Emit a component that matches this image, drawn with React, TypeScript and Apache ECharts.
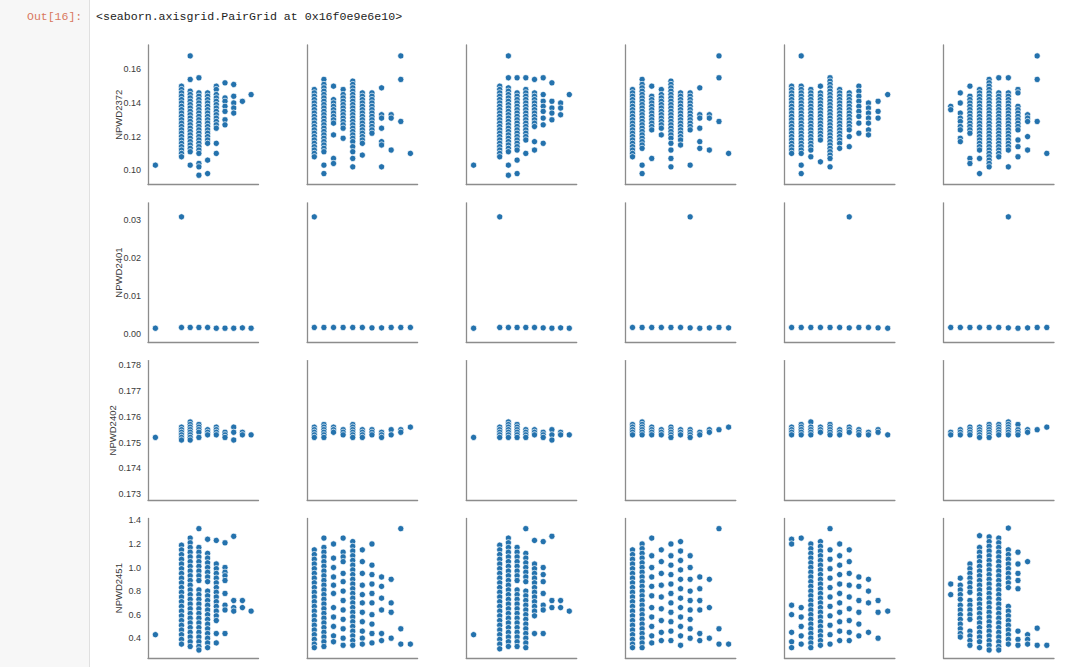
import React, { useEffect, useRef } from "react";
import * as echarts from "echarts";

const yNames = ["NPWD2372", "NPWD2401", "NPWD2402", "NPWD2451"];
const xLevelsA = [0, 3, 4, 5, 6, 7, 8, 9, 10, 11];
const xLevelsB = [0, 1, 2, 3, 4, 5, 6, 7, 8, 9, 10];
const colLevels = [xLevelsA, xLevelsB, xLevelsA, xLevelsB, xLevelsB, xLevelsB];
const yTicks = [
  [0.1, 0.12, 0.14, 0.16],
  [0.0, 0.01, 0.02, 0.03],
  [0.173, 0.174, 0.175, 0.176, 0.177, 0.178],
  [0.4, 0.6, 0.8, 1.0, 1.2, 1.4],
];
const yDecimals = [2, 2, 3, 1];
const yMin = [0.0915, -0.0021, 0.17277, 0.233];
const yMax = [0.1745, 0.0346, 0.17818, 1.417];

// Row 1: NPWD2372
const r1c1 = [
  [0.103],
  [0.150, 0.148, 0.146, 0.144, 0.142, 0.140, 0.138, 0.136, 0.134, 0.132, 0.130, 0.128, 0.126, 0.124, 0.122, 0.120, 0.118, 0.116, 0.114, 0.112, 0.110, 0.108],
  [0.168, 0.154, 0.147, 0.145, 0.143, 0.141, 0.139, 0.137, 0.135, 0.133, 0.131, 0.129, 0.127, 0.125, 0.123, 0.121, 0.119, 0.117, 0.115, 0.113, 0.111, 0.103],
  [0.155, 0.146, 0.144, 0.142, 0.140, 0.138, 0.136, 0.134, 0.132, 0.130, 0.128, 0.126, 0.124, 0.122, 0.120, 0.118, 0.116, 0.114, 0.112, 0.110, 0.104, 0.102, 0.097],
  [0.146, 0.144, 0.142, 0.140, 0.138, 0.136, 0.134, 0.132, 0.130, 0.128, 0.126, 0.124, 0.122, 0.120, 0.118, 0.116, 0.106, 0.098],
  [0.150, 0.148, 0.145, 0.143, 0.141, 0.139, 0.137, 0.135, 0.133, 0.131, 0.129, 0.127, 0.125, 0.116, 0.110],
  [0.152, 0.143, 0.141, 0.138, 0.135, 0.130, 0.127],
  [0.151, 0.144, 0.140, 0.137, 0.134],
  [0.141],
  [0.145],
];
const r1c2 = [
  [0.148, 0.146, 0.144, 0.142, 0.140, 0.138, 0.136, 0.134, 0.132, 0.130, 0.128, 0.126, 0.124, 0.122, 0.120, 0.118, 0.116, 0.114, 0.112, 0.110, 0.108],
  [0.154, 0.151, 0.149, 0.147, 0.145, 0.143, 0.141, 0.139, 0.137, 0.135, 0.133, 0.131, 0.129, 0.127, 0.125, 0.123, 0.121, 0.119, 0.117, 0.115, 0.113, 0.111, 0.103, 0.098],
  [0.150, 0.142, 0.140, 0.138, 0.136, 0.134, 0.132, 0.130, 0.128, 0.121, 0.107, 0.104],
  [0.148, 0.145, 0.143, 0.141, 0.139, 0.137, 0.135, 0.133, 0.131, 0.129, 0.127, 0.125, 0.119],
  [0.153, 0.151, 0.149, 0.147, 0.145, 0.143, 0.141, 0.139, 0.137, 0.135, 0.133, 0.131, 0.129, 0.127, 0.125, 0.123, 0.121, 0.119, 0.117, 0.114, 0.111, 0.107, 0.102],
  [0.146, 0.144, 0.142, 0.140, 0.138, 0.136, 0.134, 0.132, 0.130, 0.128, 0.126, 0.124, 0.122, 0.120, 0.118, 0.116, 0.109],
  [0.146, 0.144, 0.142, 0.140, 0.138, 0.136, 0.134, 0.132, 0.130, 0.128, 0.126, 0.124, 0.122],
  [0.149, 0.133, 0.131, 0.125, 0.117, 0.115, 0.102],
  [0.133, 0.131, 0.112],
  [0.168, 0.154, 0.129],
  [0.110],
];
const r1c3 = [
  [0.103],
  [0.150, 0.148, 0.146, 0.144, 0.142, 0.140, 0.138, 0.136, 0.134, 0.132, 0.130, 0.128, 0.126, 0.124, 0.122, 0.120, 0.118, 0.116, 0.114, 0.112, 0.110, 0.108],
  [0.168, 0.155, 0.149, 0.147, 0.145, 0.143, 0.141, 0.139, 0.137, 0.135, 0.133, 0.131, 0.129, 0.127, 0.125, 0.123, 0.121, 0.119, 0.117, 0.115, 0.113, 0.111, 0.103, 0.097],
  [0.155, 0.146, 0.144, 0.142, 0.140, 0.138, 0.136, 0.134, 0.132, 0.130, 0.128, 0.126, 0.124, 0.122, 0.120, 0.118, 0.116, 0.114, 0.112, 0.106, 0.098],
  [0.155, 0.148, 0.146, 0.144, 0.142, 0.140, 0.138, 0.136, 0.134, 0.132, 0.130, 0.128, 0.126, 0.124, 0.122, 0.120, 0.118, 0.110],
  [0.154, 0.146, 0.144, 0.142, 0.140, 0.138, 0.136, 0.134, 0.132, 0.130, 0.128, 0.126, 0.117, 0.112],
  [0.155, 0.145, 0.141, 0.138, 0.135, 0.131, 0.127, 0.116],
  [0.152, 0.141, 0.137, 0.134, 0.130],
  [0.140, 0.137, 0.133],
  [0.145],
];
const r1c4 = [
  [0.148, 0.146, 0.144, 0.142, 0.140, 0.138, 0.136, 0.134, 0.132, 0.130, 0.128, 0.126, 0.124, 0.122, 0.120, 0.118, 0.116, 0.114, 0.112, 0.110, 0.108],
  [0.154, 0.151, 0.149, 0.147, 0.145, 0.143, 0.141, 0.139, 0.137, 0.135, 0.133, 0.131, 0.129, 0.127, 0.125, 0.123, 0.121, 0.119, 0.117, 0.115, 0.113, 0.103, 0.098],
  [0.150, 0.144, 0.142, 0.140, 0.138, 0.136, 0.134, 0.132, 0.130, 0.128, 0.126, 0.124, 0.107],
  [0.148, 0.145, 0.143, 0.141, 0.139, 0.137, 0.135, 0.133, 0.131, 0.129, 0.127, 0.125, 0.121],
  [0.153, 0.151, 0.149, 0.147, 0.145, 0.143, 0.141, 0.139, 0.137, 0.135, 0.133, 0.131, 0.129, 0.127, 0.125, 0.123, 0.121, 0.119, 0.116, 0.112, 0.107, 0.102],
  [0.146, 0.144, 0.142, 0.140, 0.138, 0.136, 0.134, 0.132, 0.130, 0.128, 0.126, 0.124, 0.122, 0.120, 0.118, 0.115],
  [0.146, 0.144, 0.142, 0.140, 0.138, 0.136, 0.134, 0.132, 0.130, 0.128, 0.126, 0.124, 0.103],
  [0.149, 0.133, 0.131, 0.125, 0.117, 0.113],
  [0.133, 0.131, 0.112],
  [0.168, 0.155, 0.129],
  [0.110],
];
const r1c5 = [
  [0.150, 0.148, 0.146, 0.144, 0.142, 0.140, 0.138, 0.136, 0.134, 0.132, 0.130, 0.128, 0.126, 0.124, 0.122, 0.120, 0.118, 0.116, 0.114, 0.112, 0.110],
  [0.168, 0.150, 0.148, 0.146, 0.144, 0.142, 0.140, 0.138, 0.136, 0.134, 0.132, 0.130, 0.128, 0.126, 0.124, 0.122, 0.120, 0.118, 0.116, 0.114, 0.112, 0.110, 0.103, 0.098],
  [0.148, 0.146, 0.144, 0.142, 0.140, 0.138, 0.136, 0.134, 0.132, 0.130, 0.128, 0.126, 0.124, 0.122, 0.120, 0.118, 0.116, 0.114, 0.112, 0.108],
  [0.150, 0.146, 0.144, 0.142, 0.140, 0.138, 0.136, 0.134, 0.132, 0.130, 0.128, 0.126, 0.124, 0.122, 0.120, 0.118, 0.105],
  [0.155, 0.153, 0.151, 0.149, 0.147, 0.145, 0.143, 0.141, 0.139, 0.137, 0.135, 0.133, 0.131, 0.129, 0.127, 0.125, 0.123, 0.121, 0.119, 0.117, 0.115, 0.113, 0.111, 0.109, 0.107, 0.102],
  [0.148, 0.146, 0.144, 0.142, 0.140, 0.138, 0.136, 0.134, 0.132, 0.130, 0.128, 0.126, 0.124, 0.122, 0.120, 0.118, 0.116, 0.113],
  [0.146, 0.144, 0.142, 0.140, 0.138, 0.136, 0.134, 0.132, 0.130, 0.128, 0.126, 0.124, 0.120, 0.114],
  [0.150, 0.147, 0.144, 0.141, 0.138, 0.135, 0.132, 0.128, 0.122],
  [0.140, 0.137, 0.134, 0.131, 0.128, 0.124, 0.121],
  [0.141, 0.135, 0.131],
  [0.145],
];
const r1c6 = [
  [0.138, 0.136],
  [0.146, 0.140, 0.134, 0.131, 0.129, 0.126, 0.124, 0.119, 0.117],
  [0.150, 0.144, 0.142, 0.140, 0.138, 0.136, 0.134, 0.132, 0.130, 0.128, 0.126, 0.124, 0.122, 0.107, 0.104],
  [0.148, 0.146, 0.144, 0.142, 0.140, 0.138, 0.136, 0.134, 0.132, 0.130, 0.128, 0.126, 0.124, 0.122, 0.120, 0.118, 0.116, 0.114, 0.112, 0.107, 0.098],
  [0.154, 0.152, 0.150, 0.148, 0.146, 0.144, 0.142, 0.140, 0.138, 0.136, 0.134, 0.132, 0.130, 0.128, 0.126, 0.124, 0.122, 0.120, 0.118, 0.116, 0.114, 0.112, 0.110, 0.108, 0.106, 0.104, 0.102],
  [0.155, 0.146, 0.144, 0.142, 0.140, 0.138, 0.136, 0.134, 0.132, 0.130, 0.128, 0.126, 0.124, 0.122, 0.120, 0.118, 0.116, 0.114, 0.112, 0.110, 0.108],
  [0.155, 0.146, 0.144, 0.142, 0.140, 0.138, 0.136, 0.134, 0.132, 0.130, 0.128, 0.126, 0.124, 0.122, 0.120, 0.118, 0.116, 0.114, 0.112, 0.102],
  [0.148, 0.146, 0.138, 0.136, 0.134, 0.132, 0.130, 0.128, 0.126, 0.124, 0.118, 0.114, 0.108],
  [0.133, 0.131, 0.129, 0.120, 0.112],
  [0.168, 0.154, 0.129],
  [0.110],
];

// Row 2: NPWD2401
const r2c1 = [[0.0016], [0.0309, 0.0018], [0.0018], [0.0018], [0.0018], [0.0016], [0.0016], [0.0016], [0.0017], [0.0016]];
const r2c2 = [[0.0309, 0.0018], [0.0018], [0.0018], [0.0018], [0.0018], [0.0018], [0.0017], [0.0017], [0.0018], [0.0018], [0.0018]];
const r2c3 = [[0.0016], [0.0309, 0.0018], [0.0018], [0.0018], [0.0018], [0.0018], [0.0017], [0.0016], [0.0017], [0.0016]];
const r2c4 = [[0.0018], [0.0018], [0.0018], [0.0018], [0.0018], [0.0018], [0.0309, 0.0017], [0.0016], [0.0017], [0.0018], [0.0017]];
const r2c5 = [[0.0018], [0.0018], [0.0018], [0.0018], [0.0018], [0.0018], [0.0309, 0.0017], [0.0018], [0.0018], [0.0017], [0.0016]];
const r2c6 = [[0.0018], [0.0018], [0.0018], [0.0018], [0.0018], [0.0018], [0.0309, 0.0017], [0.0016], [0.0017], [0.0018], [0.0018]];

// Row 3: NPWD2402
const r3c1 = [
  [0.1752],
  [0.1756, 0.1755, 0.1754, 0.1753, 0.1752, 0.1751],
  [0.1758, 0.1757, 0.1756, 0.1755, 0.1754, 0.1753, 0.1752, 0.1751],
  [0.1757, 0.1756, 0.1755, 0.1754, 0.1752],
  [0.1755, 0.1754, 0.1753],
  [0.1756, 0.1755, 0.1754, 0.1753],
  [0.1754, 0.1753, 0.1752],
  [0.1756, 0.1754, 0.1751],
  [0.1754, 0.1753],
  [0.1753],
];
const r3c2 = [
  [0.1756, 0.1755, 0.1754, 0.1753, 0.1752],
  [0.1757, 0.1756, 0.1755, 0.1754, 0.1753, 0.1752],
  [0.1756, 0.1755, 0.1754],
  [0.1755, 0.1754, 0.1753],
  [0.1757, 0.1756, 0.1755, 0.1754, 0.1753, 0.1752],
  [0.1755, 0.1754, 0.1753, 0.1752],
  [0.1755, 0.1754, 0.1753],
  [0.1754, 0.1753, 0.1752],
  [0.1755, 0.1753],
  [0.1755, 0.1754],
  [0.1756],
];
const r3c3 = [
  [0.1752],
  [0.1756, 0.1755, 0.1754, 0.1753, 0.1752],
  [0.1758, 0.1757, 0.1756, 0.1755, 0.1754, 0.1753, 0.1752],
  [0.1757, 0.1756, 0.1755, 0.1754, 0.1753, 0.1752],
  [0.1755, 0.1754, 0.1753, 0.1752],
  [0.1755, 0.1754, 0.1753],
  [0.1754, 0.1753, 0.1752],
  [0.1755, 0.1753, 0.1751],
  [0.1754, 0.1753],
  [0.1753],
];
const r3c4 = [
  [0.1757, 0.1756, 0.1755, 0.1754, 0.1753],
  [0.1758, 0.1757, 0.1756, 0.1755, 0.1754, 0.1753],
  [0.1756, 0.1755, 0.1754, 0.1753],
  [0.1755, 0.1754, 0.1753],
  [0.1756, 0.1755, 0.1754, 0.1753, 0.1752],
  [0.1755, 0.1754, 0.1753],
  [0.1755, 0.1754, 0.1753, 0.1752],
  [0.1754, 0.1753],
  [0.1755, 0.1754],
  [0.1755],
  [0.1756],
];
const r3c5 = [
  [0.1756, 0.1755, 0.1754, 0.1753],
  [0.1757, 0.1756, 0.1755, 0.1754, 0.1753],
  [0.1758, 0.1756, 0.1755, 0.1754, 0.1753],
  [0.1756, 0.1755, 0.1754],
  [0.1757, 0.1756, 0.1755, 0.1754, 0.1753],
  [0.1755, 0.1754, 0.1753],
  [0.1756, 0.1755, 0.1754],
  [0.1755, 0.1754, 0.1753],
  [0.1754, 0.1753],
  [0.1755, 0.1754],
  [0.1753],
];
const r3c6 = [
  [0.1754, 0.1753],
  [0.1755, 0.1754, 0.1753],
  [0.1756, 0.1755, 0.1754, 0.1753],
  [0.1756, 0.1755, 0.1754, 0.1753, 0.1752],
  [0.1757, 0.1756, 0.1755, 0.1754, 0.1753, 0.1752],
  [0.1757, 0.1756, 0.1755, 0.1754, 0.1753],
  [0.1758, 0.1757, 0.1756, 0.1755, 0.1754, 0.1753],
  [0.1757, 0.1755, 0.1754, 0.1753],
  [0.1755, 0.1754],
  [0.1755],
  [0.1756],
];

// Row 4: NPWD2451
const r4c1 = [
  [0.43],
  [1.19, 1.15, 1.11, 1.07, 1.03, 0.99, 0.95, 0.91, 0.87, 0.83, 0.79, 0.75, 0.71, 0.67, 0.63, 0.59, 0.55, 0.51, 0.47, 0.43, 0.39, 0.35],
  [1.25, 1.21, 1.17, 1.13, 1.09, 1.05, 1.01, 0.97, 0.93, 0.89, 0.85, 0.81, 0.77, 0.73, 0.69, 0.65, 0.61, 0.57, 0.53, 0.49, 0.45, 0.41, 0.37, 0.33],
  [1.33, 1.17, 1.13, 1.09, 1.05, 1.01, 0.97, 0.93, 0.89, 0.81, 0.77, 0.73, 0.69, 0.65, 0.61, 0.57, 0.53, 0.49, 0.45, 0.41, 0.37, 0.33, 0.30],
  [1.24, 1.12, 1.08, 1.04, 1.00, 0.96, 0.92, 0.88, 0.80, 0.76, 0.72, 0.68, 0.64, 0.60, 0.56, 0.52, 0.48, 0.44, 0.40, 0.36, 0.32],
  [1.23, 1.03, 0.99, 0.95, 0.91, 0.87, 0.83, 0.79, 0.75, 0.71, 0.67, 0.63, 0.59, 0.55, 0.44, 0.36],
  [1.21, 1.00, 0.96, 0.93, 0.89, 0.78, 0.68, 0.64, 0.44],
  [1.265, 0.72, 0.66, 0.63],
  [0.72, 0.66],
  [0.63],
];
const r4c2 = [
  [1.15, 1.11, 1.07, 1.03, 0.99, 0.95, 0.91, 0.87, 0.83, 0.79, 0.75, 0.71, 0.67, 0.63, 0.59, 0.55, 0.51, 0.47, 0.43, 0.39, 0.35, 0.32],
  [1.25, 1.17, 1.13, 1.09, 1.05, 1.01, 0.97, 0.93, 0.89, 0.85, 0.81, 0.77, 0.73, 0.69, 0.65, 0.61, 0.57, 0.53, 0.49, 0.45, 0.41, 0.37, 0.33],
  [1.20, 1.08, 1.00, 0.92, 0.85, 0.78, 0.66, 0.58, 0.50, 0.42, 0.37],
  [1.25, 1.13, 1.09, 1.05, 0.95, 0.88, 0.80, 0.72, 0.64, 0.56, 0.48, 0.40, 0.34],
  [1.22, 1.18, 1.14, 1.10, 1.06, 1.02, 0.98, 0.94, 0.90, 0.86, 0.82, 0.78, 0.74, 0.70, 0.66, 0.62, 0.58, 0.54, 0.50, 0.46, 0.42, 0.38, 0.34],
  [1.15, 1.05, 0.95, 0.85, 0.77, 0.70, 0.62, 0.54, 0.46, 0.40, 0.35],
  [1.20, 1.02, 0.94, 0.86, 0.78, 0.70, 0.60, 0.52, 0.44, 0.36],
  [0.92, 0.84, 0.74, 0.64, 0.44, 0.38],
  [0.90, 0.70, 0.62, 0.40],
  [1.33, 0.48, 0.35],
  [0.35],
];
const r4c3 = [
  [0.43],
  [1.19, 1.15, 1.11, 1.07, 1.03, 0.99, 0.95, 0.91, 0.87, 0.83, 0.79, 0.75, 0.71, 0.67, 0.63, 0.59, 0.55, 0.51, 0.47, 0.43, 0.39, 0.35, 0.31],
  [1.25, 1.21, 1.17, 1.13, 1.09, 1.05, 1.01, 0.97, 0.93, 0.89, 0.85, 0.81, 0.77, 0.73, 0.69, 0.65, 0.61, 0.57, 0.53, 0.49, 0.45, 0.41, 0.37, 0.33],
  [1.17, 1.13, 1.09, 1.05, 1.01, 0.97, 0.93, 0.89, 0.81, 0.77, 0.73, 0.69, 0.65, 0.61, 0.57, 0.53, 0.49, 0.45, 0.41, 0.37, 0.33],
  [1.33, 1.12, 1.08, 1.04, 1.00, 0.96, 0.92, 0.88, 0.80, 0.76, 0.72, 0.68, 0.64, 0.60, 0.56, 0.52, 0.48, 0.44, 0.40, 0.36, 0.32],
  [1.23, 1.03, 0.99, 0.95, 0.91, 0.87, 0.83, 0.79, 0.75, 0.71, 0.67, 0.63, 0.59, 0.44],
  [1.22, 1.00, 0.94, 0.88, 0.78, 0.68, 0.64, 0.44],
  [1.265, 0.72, 0.66],
  [0.72, 0.66],
  [0.63],
];
const r4c4 = [
  [1.15, 1.11, 1.07, 1.03, 0.99, 0.95, 0.91, 0.87, 0.83, 0.79, 0.75, 0.71, 0.67, 0.63, 0.59, 0.55, 0.51, 0.47, 0.43, 0.39, 0.35, 0.32],
  [1.20, 1.16, 1.12, 1.08, 1.04, 1.00, 0.96, 0.92, 0.88, 0.84, 0.80, 0.76, 0.72, 0.68, 0.64, 0.60, 0.56, 0.52, 0.48, 0.44, 0.40, 0.36, 0.32],
  [1.25, 1.10, 1.00, 0.92, 0.84, 0.76, 0.66, 0.58, 0.50, 0.42, 0.36],
  [1.15, 1.05, 0.95, 0.85, 0.75, 0.65, 0.55, 0.45, 0.38],
  [1.20, 1.10, 1.02, 0.94, 0.86, 0.78, 0.70, 0.62, 0.54, 0.46, 0.38],
  [1.22, 1.14, 1.06, 0.98, 0.90, 0.82, 0.74, 0.66, 0.58, 0.50, 0.42, 0.34],
  [1.10, 1.00, 0.90, 0.80, 0.72, 0.64, 0.56, 0.48, 0.40],
  [0.92, 0.82, 0.72, 0.64, 0.44, 0.38],
  [0.90, 0.66, 0.40],
  [1.33, 0.48, 0.35],
  [0.35],
];
const r4c5 = [
  [1.24, 1.20, 0.68, 0.60, 0.45, 0.37, 0.32],
  [1.25, 0.66, 0.58, 0.50, 0.42, 0.35],
  [1.20, 1.16, 1.12, 1.08, 1.04, 1.00, 0.96, 0.92, 0.88, 0.84, 0.80, 0.76, 0.72, 0.68, 0.64, 0.60, 0.56, 0.52, 0.48, 0.44, 0.40, 0.36, 0.32],
  [1.22, 1.18, 1.14, 1.10, 1.06, 1.02, 0.98, 0.94, 0.90, 0.86, 0.82, 0.78, 0.74, 0.70, 0.66, 0.62, 0.58, 0.54, 0.50, 0.46, 0.42, 0.38, 0.34],
  [1.33, 1.15, 1.07, 0.99, 0.91, 0.83, 0.75, 0.67, 0.59, 0.51, 0.43, 0.35],
  [1.20, 1.10, 1.02, 0.94, 0.86, 0.78, 0.70, 0.62, 0.54, 0.46, 0.38],
  [1.15, 1.05, 0.95, 0.85, 0.75, 0.65, 0.55, 0.45, 0.38],
  [0.92, 0.84, 0.72, 0.62, 0.52, 0.42],
  [0.90, 0.80, 0.70, 0.45],
  [0.72, 0.62, 0.40],
  [0.63],
];
const r4c6 = [
  [0.86, 0.77],
  [0.91, 0.85, 0.81, 0.77, 0.73, 0.68, 0.64, 0.60, 0.56, 0.52, 0.48, 0.44, 0.41],
  [1.03, 0.99, 0.95, 0.91, 0.87, 0.83, 0.79, 0.72, 0.68, 0.64, 0.60, 0.56, 0.46, 0.42, 0.38, 0.34],
  [1.27, 1.17, 1.13, 1.09, 1.05, 1.01, 0.97, 0.93, 0.89, 0.85, 0.81, 0.77, 0.73, 0.69, 0.65, 0.61, 0.57, 0.53, 0.49, 0.45, 0.41, 0.37, 0.32],
  [1.26, 1.22, 1.18, 1.14, 1.10, 1.06, 1.02, 0.98, 0.94, 0.90, 0.86, 0.82, 0.78, 0.74, 0.70, 0.66, 0.62, 0.58, 0.54, 0.50, 0.46, 0.42, 0.38, 0.34, 0.30],
  [1.25, 1.21, 1.17, 1.13, 1.09, 1.05, 1.01, 0.97, 0.93, 0.89, 0.85, 0.81, 0.77, 0.73, 0.69, 0.65, 0.61, 0.57, 0.53, 0.49, 0.45, 0.41, 0.37, 0.33, 0.30],
  [1.335, 1.15, 1.11, 1.07, 1.03, 0.99, 0.95, 0.91, 0.87, 0.83, 0.67, 0.63, 0.59, 0.55, 0.51, 0.47, 0.43, 0.39, 0.35],
  [1.13, 1.03, 0.95, 0.89, 0.82, 0.46, 0.39, 0.34],
  [1.05, 0.43, 0.39, 0.35],
  [0.485, 0.34],
  [0.34],
];

const panels = [
  [r1c1, r1c2, r1c3, r1c4, r1c5, r1c6],
  [r2c1, r2c2, r2c3, r2c4, r2c5, r2c6],
  [r3c1, r3c2, r3c3, r3c4, r3c5, r3c6],
  [r4c1, r4c2, r4c3, r4c4, r4c5, r4c6],
];

export default function App() {
  const ref = useRef<HTMLDivElement>(null);
  useEffect(() => {
    if (!ref.current) return;
    const chart = echarts.init(ref.current, null, { renderer: "svg" });
    const grids: any[] = [];
    const xAxes: any[] = [];
    const yAxes: any[] = [];
    const series: any[] = [];
    const nameGaps = [25, 25, 31, 25];
    const axisLine = { show: true, onZero: false, lineStyle: { color: "#8c8c8c", width: 1.3 } };
    for (let r = 0; r < 4; r++) {
      for (let c = 0; c < 6; c++) {
        const i = r * 6 + c;
        const levels = colLevels[c];
        const isA = levels === xLevelsA;
        grids.push({ left: 148 + 159.1 * c, top: 45 + 157.8 * r, width: 110.5, height: 139.5 });
        xAxes.push({
          gridIndex: i,
          type: "value",
          min: isA ? -0.85 : -0.75,
          max: isA ? 11.85 : 10.75,
          axisLine,
          axisTick: { show: false },
          axisLabel: { show: false },
          splitLine: { show: false },
        });
        yAxes.push({
          gridIndex: i,
          type: "value",
          min: yMin[r],
          max: yMax[r],
          axisLine,
          axisTick: { show: false },
          splitLine: { show: false },
          axisLabel: {
            show: c === 0,
            customValues: yTicks[r],
            formatter: (v: number) => v.toFixed(yDecimals[r]),
            color: "#3a3a3a",
            fontSize: 9,
            fontFamily: "Liberation Sans",
            margin: 7,
          },
          name: c === 0 ? yNames[r] : "",
          nameLocation: "middle",
          nameRotate: 90,
          nameGap: nameGaps[r],
          nameMoveOverlap: false,
          nameTextStyle: { color: "#3a3a3a", fontSize: 9.5, fontFamily: "Liberation Sans" },
        });
        const pts: number[][] = [];
        panels[r][c].forEach((ys, k) => ys.forEach((y) => pts.push([levels[k], y])));
        series.push({
          type: "scatter",
          xAxisIndex: i,
          yAxisIndex: i,
          data: pts,
          symbolSize: 6.2,
          itemStyle: { color: "#2472ad", borderColor: "#ffffff", borderWidth: 0.7, opacity: 1 },
          silent: true,
        });
      }
    }
    chart.setOption({
      animation: false,
      backgroundColor: "#ffffff",
      graphic: [
        { type: "rect", shape: { x: 0, y: 0, width: 89, height: 667 }, style: { fill: "#f7f7f7" }, z: -10 },
        { type: "line", shape: { x1: 89.5, y1: 0, x2: 89.5, y2: 667 }, style: { stroke: "#e0e0e0", lineWidth: 1 }, z: -9 },
        {
          type: "text",
          x: 27,
          y: 16,
          style: { text: "Out[16]:", fill: "#d9785f", font: "11.5px 'Liberation Mono'", textVerticalAlign: "middle" },
        },
        {
          type: "text",
          x: 96,
          y: 16,
          style: { text: "<seaborn.axisgrid.PairGrid at 0x16f0e9e6e10>", fill: "#222222", font: "11.6px 'Liberation Mono'", textVerticalAlign: "middle" },
        },
      ],
      grid: grids,
      xAxis: xAxes,
      yAxis: yAxes,
      series,
    });
    return () => chart.dispose();
  }, []);
  return <div ref={ref} style={{ position: "absolute", left: 0, top: 0, width: 1068, height: 667 }} />;
}
